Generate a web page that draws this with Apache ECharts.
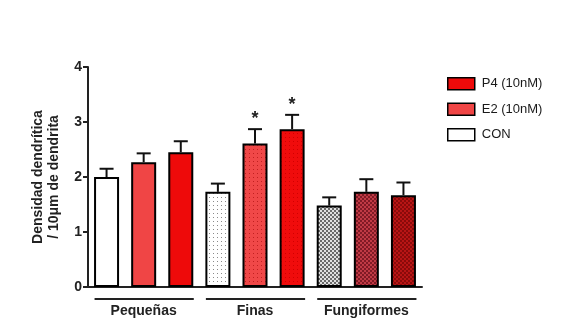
<!DOCTYPE html>
<html><head><meta charset="utf-8">
<script src="https://cdn.jsdelivr.net/npm/echarts@6/dist/echarts.min.js"></script>
<style>html,body{margin:0;padding:0;background:#fff}#c{width:574px;height:331px}</style>
</head><body><div id="c"></div>
<script>
const groups = ['Pequeñas', 'Finas', 'Fungiformes'];
const treatments = ['CON', 'E2 (10nM)', 'P4 (10nM)'];
const conMean = [2.00, 1.73, 1.48];
const conSem  = [0.15, 0.15, 0.15];
const e2Mean  = [2.27, 2.61, 1.73];
const e2Sem   = [0.16, 0.26, 0.23];
const p4Mean  = [2.45, 2.87, 1.67];
const p4Sem   = [0.20, 0.26, 0.23];
const significant = [[false,false,false],[false,true,true],[false,false,false]]; // [group][treatment]
const yTicks = [0, 1, 2, 3, 4];

const FONT = "'Liberation Sans', Arial, sans-serif";

function pattern(kind, bg, fg) {
  const c = document.createElement('canvas');
  const s = 4;
  c.width = s; c.height = s;
  const x = c.getContext('2d');
  x.fillStyle = bg; x.fillRect(0, 0, s, s);
  x.fillStyle = fg;
  if (kind === 'dots') { x.fillRect(1, 1, 1, 1); }
  else if (kind === 'check') { x.fillRect(0, 0, 2, 2); x.fillRect(2, 2, 2, 2); }
  return { image: c, repeat: 'repeat' };
}
const fills = [
  ['#ffffff', '#f04545', '#ee0a0a'],
  [pattern('dots', '#ffffff', '#8a8a8a'), pattern('dots', '#f04848', '#c02020'), pattern('dots', '#f00c0c', '#d00000')],
  [pattern('check', '#e0e0e0', '#6a6a6a'), pattern('check', '#c03a45', '#801a25'), pattern('check', '#b81515', '#8a0a0a')]
];
const legendColors = ['#ffffff', '#f04545', '#ee0a0a'];

const means = [conMean, e2Mean, p4Mean];
const sems = [conSem, e2Sem, p4Sem];
const slots = [];
groups.forEach(g => treatments.forEach(t => slots.push(g + ' ' + t)));

const series = treatments.map((t, ti) => ({
  name: t,
  type: 'bar',
  barWidth: 25,
  barGap: '-100%',
  itemStyle: { color: legendColors[ti], borderColor: '#000', borderWidth: 2 },
  data: slots.map((s, si) => {
    const gi = Math.floor(si / 3), tj = si % 3;
    if (tj !== ti) return '-';
    return { value: means[ti][gi], itemStyle: { color: fills[gi][ti], borderColor: '#000', borderWidth: 2 } };
  }),
  z: 2
}));

const errData = [];
slots.forEach((s, si) => {
  const gi = Math.floor(si / 3), ti = si % 3;
  errData.push([si, means[ti][gi], means[ti][gi] + sems[ti][gi], significant[gi][ti] ? 1 : 0]);
});

series.push({
  type: 'custom',
  data: errData,
  z: 1,
  renderItem: function (params, api) {
    const top = api.coord([api.value(0), api.value(1)]);
    const err = api.coord([api.value(0), api.value(2)]);
    const children = [
      { type: 'line', shape: { x1: top[0], y1: top[1], x2: err[0], y2: err[1] }, style: { stroke: '#111', lineWidth: 2 } },
      { type: 'line', shape: { x1: err[0] - 7, y1: err[1], x2: err[0] + 7, y2: err[1] }, style: { stroke: '#111', lineWidth: 2 } }
    ];
    if (api.value(3)) {
      children.push({ type: 'text', style: { text: '*', x: err[0], y: err[1] - 10, align: 'center', verticalAlign: 'middle', fill: '#222', font: 'bold 18px ' + FONT } });
    }
    return { type: 'group', children: children };
  }
});

const groupSpans = groups.map((g, gi) => [gi * 3, gi * 3 + 2]);
series.push({
  type: 'custom',
  data: groupSpans,
  clip: false,
  renderItem: function (params, api) {
    const a = api.coord([api.value(0), 0]);
    const b = api.coord([api.value(1), 0]);
    return { type: 'line', shape: { x1: a[0] - 12, y1: a[1] + 12, x2: b[0] + 13, y2: b[1] + 12 }, style: { stroke: '#222', lineWidth: 2 } };
  }
});

const chart = echarts.init(document.getElementById('c'), null, { renderer: 'canvas' });
chart.setOption({
  animation: false,
  backgroundColor: '#fff',
  textStyle: { fontFamily: FONT },
  grid: { left: 88, top: 67, width: 334, height: 220, containLabel: false },
  legend: {
    data: ['P4 (10nM)', 'E2 (10nM)', 'CON'],
    orient: 'vertical', left: 442, top: 72,
    icon: 'rect', itemWidth: 27, itemHeight: 12, itemGap: 12,
    textStyle: { fontSize: 13, color: '#1a1a1a', fontFamily: FONT, padding: [0, 0, 0, 2] },
    itemStyle: { borderColor: '#000', borderWidth: 1.5 }
  },
  xAxis: [{
    type: 'category', data: slots, boundaryGap: true,
    axisLine: { lineStyle: { color: '#222', width: 2 } },
    axisTick: { alignWithLabel: true, length: 6, lineStyle: { color: '#222', width: 2 } },
    axisLabel: { show: false }
  }, {
    type: 'category', data: groups, position: 'bottom', gridIndex: 0,
    axisLine: { show: false }, axisTick: { show: false },
    axisLabel: { interval: 0, hideOverlap: false, fontSize: 14, fontWeight: 'bold', color: '#222', margin: 17, fontFamily: FONT }
  }],
  yAxis: {
    type: 'value', min: 0, max: 4, interval: 1,
    splitLine: { show: false },
    axisLine: { show: true, lineStyle: { color: '#222', width: 2 } },
    axisTick: { show: true, length: 5, lineStyle: { color: '#222', width: 2 } },
    axisLabel: { fontSize: 14, fontWeight: 'bold', color: '#222', margin: 6, fontFamily: FONT,
      formatter: v => yTicks.includes(v) ? String(v) : '' },
    name: 'Densidad dendrítica\n/ 10μm de dendrita',
    nameLocation: 'middle', nameGap: 26, nameRotate: 90,
    nameTextStyle: { fontSize: 14, fontWeight: 'bold', color: '#222', lineHeight: 16, fontFamily: FONT }
  },
  series: series
});
</script></body></html>
